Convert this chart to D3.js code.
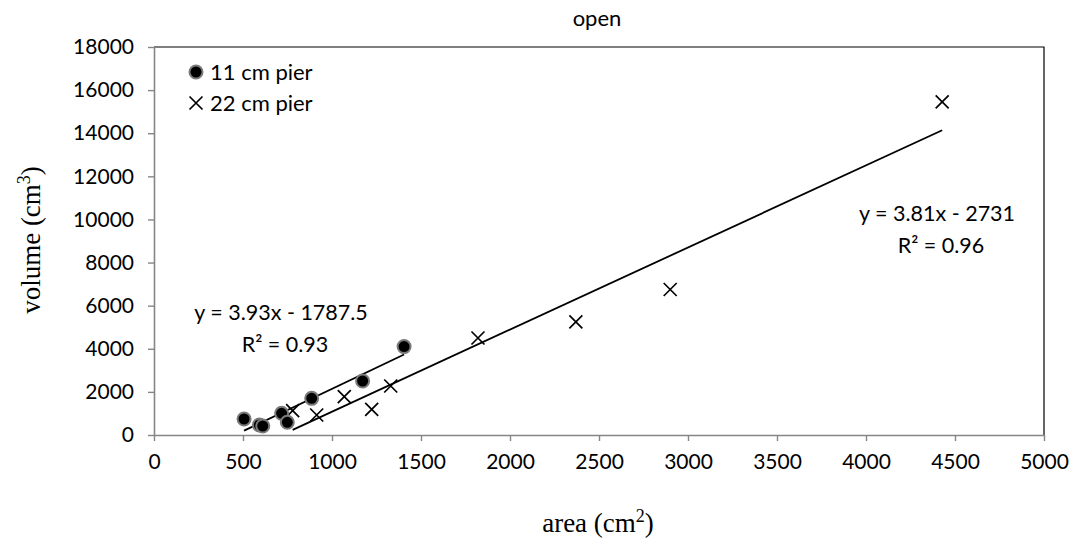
<!DOCTYPE html>
<html>
<head>
<meta charset="utf-8">
<script src="https://cdn.jsdelivr.net/npm/d3@7"></script>
<style>
  html, body { margin: 0; padding: 0; background: #fff; }
  svg text { font-family: Lato, "Open Sans", sans-serif; fill: #000; }
  .serif { font-family: "Liberation Serif", "Times New Roman", serif; }
</style>
</head>
<body>
<div id="chart"></div>
<script>
// 11 cm pier (area cm2, volume cm3)
const pier11Area = [506, 592, 611, 717, 749, 886, 1172, 1405];
const pier11Vol  = [742, 464, 418, 1007, 589, 1700, 2505, 4100];
// 22 cm pier
const pier22Area = [779, 914, 1069, 1223, 1330, 1820, 2370, 2900, 4428];
const pier22Vol  = [1127, 928, 1777, 1192, 2273, 4500, 5250, 6750, 15450];

// linear trend lines as reported on the chart
const trend11 = { slope: 3.93, intercept: -1787.5, eq: 'y = 3.93x - 1787.5', r2: '0.93' };
const trend22 = { slope: 3.81, intercept: -2731, eq: 'y = 3.81x - 2731', r2: '0.96' };

const xTicks = [0, 500, 1000, 1500, 2000, 2500, 3000, 3500, 4000, 4500, 5000];
const yTicks = [0, 2000, 4000, 6000, 8000, 10000, 12000, 14000, 16000, 18000];

const width = 1078, height = 548;
const margin = { top: 47, right: 34, bottom: 113, left: 154 };

const svg = d3.select('#chart').append('svg')
  .attr('width', width)
  .attr('height', height);

const x = d3.scaleLinear().domain([0, 5000]).range([margin.left, width - margin.right]);
const y = d3.scaleLinear().domain([0, 18000]).range([height - margin.bottom, margin.top]);

// plot area outline (top & right)
svg.append('path')
  .attr('d', `M${x(0)},${y(18000)}H${x(5000)}V${y(0)}`)
  .attr('fill', 'none')
  .attr('stroke', '#000')
  .attr('stroke-width', 1.2);

// axes
const xAxis = svg.append('g')
  .attr('transform', `translate(0,${y(0)})`)
  .call(d3.axisBottom(x).tickValues(xTicks).tickSize(6).tickSizeOuter(0).tickPadding(13).tickFormat(d3.format('d')));
const yAxis = svg.append('g')
  .attr('transform', `translate(${x(0)},0)`)
  .call(d3.axisLeft(y).tickValues(yTicks).tickSize(6).tickSizeOuter(0).tickPadding(14).tickFormat(d3.format('d')));

[xAxis, yAxis].forEach(g => {
  g.select('.domain').attr('stroke', '#868686').attr('stroke-width', 1.6);
  g.selectAll('.tick line').attr('stroke', '#868686').attr('stroke-width', 1.4);
  g.selectAll('.tick text').style('font-family', 'Lato, sans-serif').style('font-size', '21px').attr('fill', '#000');
});

// trend lines
function drawTrend(t, areas) {
  const x0 = d3.min(areas), x1 = d3.max(areas);
  svg.append('line')
    .attr('x1', x(x0)).attr('y1', y(t.slope * x0 + t.intercept))
    .attr('x2', x(x1)).attr('y2', y(t.slope * x1 + t.intercept))
    .attr('stroke', '#000')
    .attr('stroke-width', 1.8);
}
drawTrend(trend11, pier11Area);
drawTrend(trend22, pier22Area);

// markers
const circles = pier11Area.map((a, i) => ({ a, v: pier11Vol[i] }));
const crosses = pier22Area.map((a, i) => ({ a, v: pier22Vol[i] }));

const crossPath = 'M-6.5,-6.5L6.5,6.5M-6.5,6.5L6.5,-6.5';

svg.append('g').selectAll('path')
  .data(crosses)
  .enter()
  .append('path')
  .attr('transform', d => `translate(${x(d.a)},${y(d.v)})`)
  .attr('d', crossPath)
  .attr('stroke', '#000')
  .attr('stroke-width', 1.7)
  .attr('fill', 'none');

svg.append('g').selectAll('circle')
  .data(circles)
  .enter()
  .append('circle')
  .attr('cx', d => x(d.a))
  .attr('cy', d => y(d.v))
  .attr('r', 6.5)
  .attr('fill', '#000')
  .attr('stroke', '#7a7a7a')
  .attr('stroke-width', 2);

// trend labels
function trendLabel(t, cx, cy) {
  const g = svg.append('g').style('font-size', '21.5px');
  g.append('text').attr('x', cx).attr('y', cy).attr('text-anchor', 'middle').text(t.eq);
  g.append('text').attr('x', cx + 4).attr('y', cy + 32).attr('text-anchor', 'middle').text('R² = ' + t.r2);
}
trendLabel(trend11, 281, 320);
trendLabel(trend22, 937, 221);

// legend
const legend = svg.append('g').style('font-size', '22px');
legend.append('circle').attr('cx', 196).attr('cy', 72).attr('r', 6.5)
  .attr('fill', '#000').attr('stroke', '#7a7a7a').attr('stroke-width', 2);
legend.append('text').attr('x', 210).attr('y', 80).text('11 cm pier');
legend.append('path').attr('transform', 'translate(196,103)').attr('d', crossPath)
  .attr('stroke', '#000').attr('stroke-width', 1.7);
legend.append('text').attr('x', 210).attr('y', 111).text('22 cm pier');

// title
svg.append('text')
  .attr('x', 597).attr('y', 26)
  .attr('text-anchor', 'middle')
  .style('font-size', '22px')
  .text('open');

// axis titles
const xt = svg.append('text')
  .attr('class', 'serif')
  .attr('x', 598).attr('y', 532)
  .attr('text-anchor', 'middle')
  .style('font-size', '27px');
xt.append('tspan').text('area (cm');
xt.append('tspan').attr('dy', -10).style('font-size', '18px').text('2');
xt.append('tspan').attr('dy', 10).text(')');

const yt = svg.append('text')
  .attr('class', 'serif')
  .attr('transform', 'translate(40,240) rotate(-90)')
  .attr('text-anchor', 'middle')
  .style('font-size', '27px');
yt.append('tspan').text('volume (cm');
yt.append('tspan').attr('dy', -10).style('font-size', '18px').text('3');
yt.append('tspan').attr('dy', 10).text(')');
</script>
</body>
</html>
